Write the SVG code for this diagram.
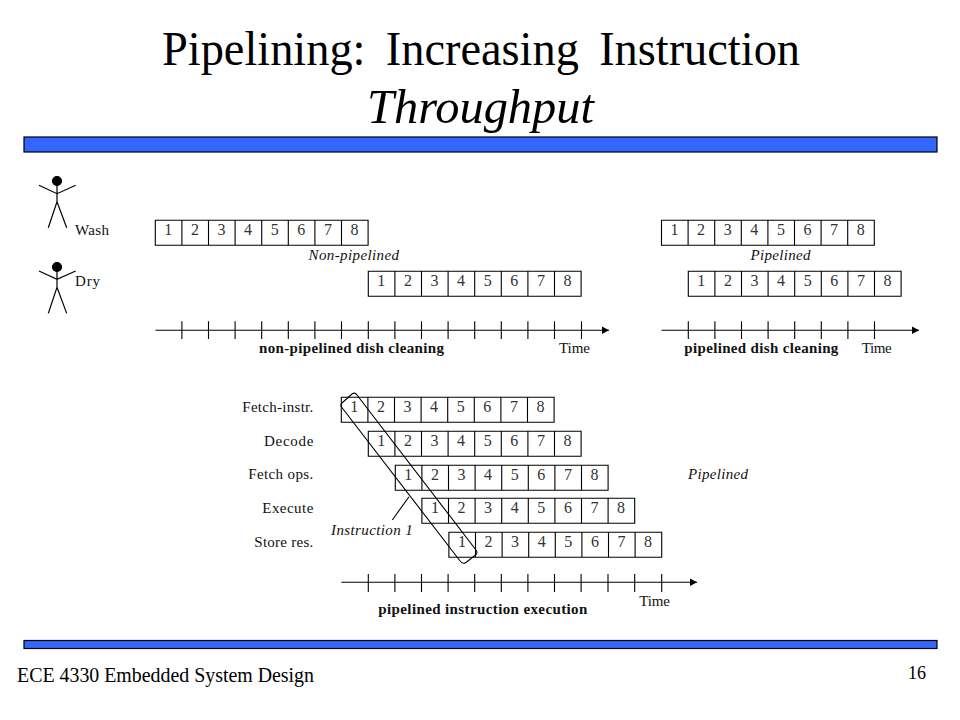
<svg xmlns="http://www.w3.org/2000/svg" width="960" height="720" viewBox="0 0 960 720">
<style>
text{font-family:"Liberation Serif","Times New Roman",serif;fill:#000}
.title{font-size:48px}
.n{font-size:16px;text-anchor:middle;fill:#333}
.l{font-size:15px;fill:#111}
.i{font-style:italic}
.b{font-weight:bold}
.bar{fill:#3366ff;stroke:#000;stroke-width:1.2}
.s{fill:none;stroke:#000;stroke-width:1.1}
.fig{fill:none;stroke:#000;stroke-width:1.2}
</style>
<defs>
<g id="cells"><path class="s" d="M0 0H212.800V25H0ZM26.600 0V25M53.200 0V25M79.800 0V25M106.400 0V25M133 0V25M159.600 0V25M186.200 0V25"/></g>
<marker id="ah" markerUnits="userSpaceOnUse" markerWidth="8" markerHeight="8" refX="7.500" refY="4" orient="auto"><path d="M0 0L7.500 4L0 8Z" fill="#000"/></marker>
</defs>
<rect width="960" height="720" fill="#fff"/>
<text class="title" x="162" y="65" textLength="638" lengthAdjust="spacingAndGlyphs" style="word-spacing:9px">Pipelining: Increasing Instruction</text>
<text class="title i" x="367" y="123" textLength="227" lengthAdjust="spacingAndGlyphs">Throughput</text>
<rect class="bar" x="24" y="137" width="913" height="15"/>
<rect class="bar" x="24" y="640.500" width="913" height="8"/>
<g id="person-wash" class="fig"><circle cx="57" cy="181" r="4.500" fill="#000"/><path d="M57 185V201.700M39 185.300L57 193.700L75.700 185.300M48.300 227.700L57 201.700L66.700 227.700"/></g>
<g id="person-dry" class="fig"><circle cx="57" cy="267" r="4.500" fill="#000"/><path d="M57 271V287.400M39 271L57 279.400L75.700 271M48.300 313.400L57 287.400L66.700 313.400"/></g>
<g id="labels">
<text class="l" x="75" y="235" textLength="34">Wash</text>
<text class="l" x="75" y="286" textLength="25">Dry</text>
<text class="l i" x="308.500" y="260" textLength="90.500">Non-pipelined</text>
<text class="l i" x="750.500" y="260" textLength="60">Pipelined</text>
<text class="l b" x="259" y="353" textLength="185">non-pipelined dish cleaning</text>
<text class="l" x="559" y="353" textLength="31">Time</text>
<text class="l b" x="684.300" y="353" textLength="154">pipelined dish cleaning</text>
<text class="l" x="861.700" y="353" textLength="30">Time</text>
<text class="l" x="242.300" y="412" textLength="71">Fetch-instr.</text>
<text class="l" x="264" y="446" textLength="49.500">Decode</text>
<text class="l" x="248.300" y="479" textLength="65">Fetch ops.</text>
<text class="l" x="262.300" y="513" textLength="51">Execute</text>
<text class="l" x="254.300" y="547" textLength="59">Store res.</text>
<text class="l i" x="688" y="479" textLength="60">Pipelined</text>
<text class="l i" x="331" y="535" textLength="81.700">Instruction 1</text>
<text class="l b" x="378.300" y="614" textLength="209">pipelined instruction execution</text>
<text class="l" x="639.300" y="606" textLength="30.700">Time</text>
<text x="17" y="682" textLength="297" lengthAdjust="spacingAndGlyphs" style="font-size:20px">ECE 4330 Embedded System Design</text>
<text x="908" y="679" style="font-size:18px">16</text>
</g>
<g id="row-wash" transform="translate(155.300,220.300)"><use href="#cells"/><text class="n" x="13" y="15">1</text><text class="n" x="39.600" y="15">2</text><text class="n" x="66.200" y="15">3</text><text class="n" x="92.800" y="15">4</text><text class="n" x="119.400" y="15">5</text><text class="n" x="146" y="15">6</text><text class="n" x="172.600" y="15">7</text><text class="n" x="199.200" y="15">8</text></g>
<g id="row-dry" transform="translate(368.300,271.300)"><use href="#cells"/><text class="n" x="13" y="15">1</text><text class="n" x="39.600" y="15">2</text><text class="n" x="66.200" y="15">3</text><text class="n" x="92.800" y="15">4</text><text class="n" x="119.400" y="15">5</text><text class="n" x="146" y="15">6</text><text class="n" x="172.600" y="15">7</text><text class="n" x="199.200" y="15">8</text></g>
<g id="row-wash-p" transform="translate(661.500,220.300)"><use href="#cells"/><text class="n" x="13" y="15">1</text><text class="n" x="39.600" y="15">2</text><text class="n" x="66.200" y="15">3</text><text class="n" x="92.800" y="15">4</text><text class="n" x="119.400" y="15">5</text><text class="n" x="146" y="15">6</text><text class="n" x="172.600" y="15">7</text><text class="n" x="199.200" y="15">8</text></g>
<g id="row-dry-p" transform="translate(688.300,271.300)"><use href="#cells"/><text class="n" x="13" y="15">1</text><text class="n" x="39.600" y="15">2</text><text class="n" x="66.200" y="15">3</text><text class="n" x="92.800" y="15">4</text><text class="n" x="119.400" y="15">5</text><text class="n" x="146" y="15">6</text><text class="n" x="172.600" y="15">7</text><text class="n" x="199.200" y="15">8</text></g>
<g id="row-fetch" transform="translate(341.300,397.300)"><use href="#cells"/><text class="n" x="13" y="15">1</text><text class="n" x="39.600" y="15">2</text><text class="n" x="66.200" y="15">3</text><text class="n" x="92.800" y="15">4</text><text class="n" x="119.400" y="15">5</text><text class="n" x="146" y="15">6</text><text class="n" x="172.600" y="15">7</text><text class="n" x="199.200" y="15">8</text></g>
<g id="row-decode" transform="translate(368.300,431.300)"><use href="#cells"/><text class="n" x="13" y="15">1</text><text class="n" x="39.600" y="15">2</text><text class="n" x="66.200" y="15">3</text><text class="n" x="92.800" y="15">4</text><text class="n" x="119.400" y="15">5</text><text class="n" x="146" y="15">6</text><text class="n" x="172.600" y="15">7</text><text class="n" x="199.200" y="15">8</text></g>
<g id="row-ops" transform="translate(395.300,465.300)"><use href="#cells"/><text class="n" x="13" y="15">1</text><text class="n" x="39.600" y="15">2</text><text class="n" x="66.200" y="15">3</text><text class="n" x="92.800" y="15">4</text><text class="n" x="119.400" y="15">5</text><text class="n" x="146" y="15">6</text><text class="n" x="172.600" y="15">7</text><text class="n" x="199.200" y="15">8</text></g>
<g id="row-exec" transform="translate(421.900,498.300)"><use href="#cells"/><text class="n" x="13" y="15">1</text><text class="n" x="39.600" y="15">2</text><text class="n" x="66.200" y="15">3</text><text class="n" x="92.800" y="15">4</text><text class="n" x="119.400" y="15">5</text><text class="n" x="146" y="15">6</text><text class="n" x="172.600" y="15">7</text><text class="n" x="199.200" y="15">8</text></g>
<g id="row-store" transform="translate(448.900,532.300)"><use href="#cells"/><text class="n" x="13" y="15">1</text><text class="n" x="39.600" y="15">2</text><text class="n" x="66.200" y="15">3</text><text class="n" x="92.800" y="15">4</text><text class="n" x="119.400" y="15">5</text><text class="n" x="146" y="15">6</text><text class="n" x="172.600" y="15">7</text><text class="n" x="199.200" y="15">8</text></g>
<g id="connectors">
<path class="s" marker-end="url(#ah)" d="M155.500 330.300H609"/>
<path class="s" d="M181.900 321.300V339M208.500 321.300V339M235.100 321.300V339M261.700 321.300V339M288.300 321.300V339M314.900 321.300V339M341.500 321.300V339M368.300 321.300V339M394.900 321.300V339M421.500 321.300V339M448.100 321.300V339M474.700 321.300V339M501.300 321.300V339M527.900 321.300V339M554.500 321.300V339M581.500 321.300V339"/>
<path class="s" marker-end="url(#ah)" d="M661.500 330.300H919"/>
<path class="s" d="M688.300 321.300V339M714.900 321.300V339M741.500 321.300V339M768.100 321.300V339M794.700 321.300V339M821.300 321.300V339M847.900 321.300V339M874.500 321.300V339"/>
<path class="s" marker-end="url(#ah)" d="M341.300 582.300H697"/>
<path class="s" d="M368.300 574V592M394.900 574V592M421.500 574V592M448.100 574V592M474.700 574V592M501.300 574V592M527.900 574V592M554.500 574V592M581.100 574V592M608 574V592M634.700 574V592M661.700 574V592"/>
<path class="s" d="M342.500 402.500L352 394Q355 392 357 395L476 550Q478 553 475.500 555L466 562.500Q463 564.500 460.500 561.500L341.500 407Q340 404.500 342.500 402.500Z"/>
<path class="s" d="M392.300 520L409 496.700"/>
</g>
</svg>
